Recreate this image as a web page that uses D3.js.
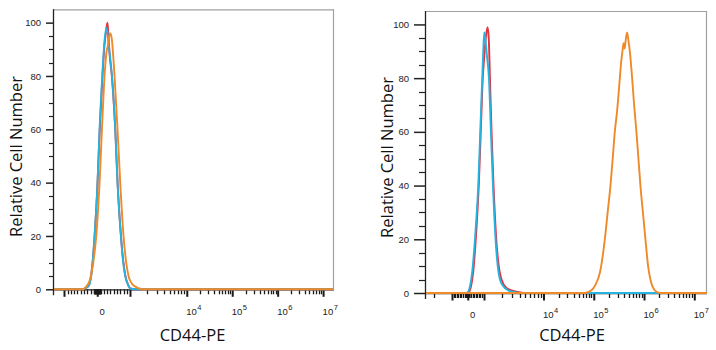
<!DOCTYPE html>
<html>
<head>
<meta charset="utf-8">
<script src="https://cdn.jsdelivr.net/npm/d3@7"></script>
<style>
  html, body { margin: 0; padding: 0; background: #fff; }
  svg { display: block; }
</style>
</head>
<body>
<svg id="chart" width="716" height="350"></svg>
<script>
// ---------------- DATA ----------------
// Histogram series: [fluorescence value, relative cell number]
const leftRed = [[-3000,0],[-470,0],[-280,1],[-190,5],[-85,19],[5,39],[68,58],[150,78],[215,91],[270,97],[310,100],[340,95],[370,89],[450,79],[550,59],[620,39],[725,19],[795,10],[855,5],[945,1.5],[1000,0.3],[1250,0],[3e7,0]];
const leftBlue = [[-3000,0],[-464,0],[-273,1],[-182,5],[-82,20],[9,40],[70,60],[152,80],[212,92],[273,98],[303,97],[364,90],[446,80],[546,60],[615,40],[718,20],[788,10],[849,5],[940,1.5],[1000,0.3],[1225,0],[3e7,0]];
const leftOrange = [[-3000,0],[-455,0],[-333,1],[-212,4],[-121,10],[-30,20],[70,40],[142,60],[221,80],[294,90],[318,91],[349,94],[394,96],[440,94],[524,80],[615,60],[697,40],[797,20],[879,10],[949,5],[1085,2],[1277,0.8],[1502,0.2],[1840,0],[3e7,0]];

const rightRed = [[-4000,0],[-10,0],[95,0.5],[222,3],[348,8],[507,20],[697,40],[823,60],[950,80],[1027,88],[1089,95],[1167,99],[1220,95],[1278,80],[1359,60],[1468,40],[1630,20],[1792,10],[1995,5],[2388,2],[3130,0.8],[4090,0.2],[4950,0],[3e7,0]];
const rightBlue = [[-4000,0],[-95,0],[32,0.5],[158,3],[285,8],[456,20],[570,30],[665,40],[791,60],[918,80],[981,90],[1027,97],[1068,95],[1131,89],[1230,80],[1328,60],[1435,40],[1585,20],[1724,10],[1876,5],[2131,2.5],[2580,1],[3247,0.4],[4250,0],[3e7,0]];
const rightOrange = [[-4000,0],[66500,0],[90000,1],[108000,3],[134000,8],[166000,20],[189000,30],[215000,40],[238000,50],[262000,60],[292000,68],[305000,72],[330000,80],[351000,86],[372000,90],[393000,93],[411000,91],[431000,94],[461000,97],[490000,94],[522000,90],[580000,80],[635000,70],[706000,60],[774000,50],[848000,40],[950000,30],[1067000,20],[1205000,10],[1340000,5],[1640000,1],[2060000,0],[3e7,0]];

const yTickValues = [0, 20, 40, 60, 80, 100];
const xLabeledTicks = [0, 1e4, 1e5, 1e6, 1e7];
const xUnlabeledMajor = [-1000, 1000];
const xTitle = "CD44-PE";
const yTitle = "Relative Cell Number";

const colors = { red: "#e4323e", blue: "#26b3de", orange: "#ef8a2a" };

// ---------------- LAYOUT ----------------
const panels = [
  { x0: 53, x1: 334, yBottom: 289.3, yTop: 9.3, uDom: [-0.974, 5.21], w: 0.725, d4: 1.97,
    series: [leftRed, leftBlue, leftOrange], yTickLen: 7, yMinorLen: 4, yLabelGap: 5,
    xLabelY: 315, xTitle: [192.5, 341], yTitle: [15, 156.5] },
  { x0: 425, x1: 707, yBottom: 293, yTop: 11, uDom: [-0.851, 4.76], w: 0.314, d4: 1.507,
    series: [rightRed, rightBlue, rightOrange], yTickLen: 11, yMinorLen: 6, yLabelGap: 5,
    xLabelY: 318, xTitle: [572, 341], yTitle: [386.5, 157.5] }
];

const svg = d3.select("#chart");

function makeBiexScale(p) {
  const lin = d3.scaleLinear().domain(p.uDom).range([p.x0, p.x1]);
  const T = v => {
    if (v >= 1e4) return p.d4 + Math.log10(v / 1e4);
    if (v > 1000) return p.w + (p.d4 - p.w) * Math.log10(v / 1000);
    if (v >= -1000) return p.w * v / 1000;
    return -p.w - (p.d4 - p.w) * Math.log10(-v / 1000);
  };
  const s = v => lin(T(+v));
  s.range = () => lin.range();
  s.domain = () => p.uDom;
  s.copy = () => s;
  return s;
}

// minor tick generator (axis decoration)
function minorXTicks() {
  const t = [];
  for (let k = 1; k <= 9; k++) { t.push(k * 10, -k * 10); }
  for (let k = 1; k <= 9; k++) { t.push(k * 100, -k * 100); }
  for (let n = 3; n <= 6; n++) for (let k = 2; k <= 9; k++) t.push(k * Math.pow(10, n));
  for (let k = 2; k <= 9; k++) t.push(-k * 1000);
  return t;
}

panels.forEach(p => {
  const x = makeBiexScale(p);
  const y = d3.scaleLinear().domain([0, 105]).range([p.yBottom, p.yTop]);
  const g = svg.append("g");
  const inRange = v => { const px = x(v); return px >= p.x0 + 1 && px <= p.x1 + 0.1; };

  // frame (top and right in gray)
  g.append("line").attr("x1", p.x0).attr("x2", p.x1).attr("y1", p.yTop + 0.5).attr("y2", p.yTop + 0.5)
    .attr("stroke", "#a0a0a0").attr("stroke-width", 1.2);
  g.append("line").attr("x1", p.x1 - 0.5).attr("x2", p.x1 - 0.5).attr("y1", p.yTop).attr("y2", p.yBottom)
    .attr("stroke", "#a0a0a0").attr("stroke-width", 1.2);

  // y axis
  const yMinor = d3.range(5, 100, 5).filter(v => v % 20 !== 0);
  g.append("g").selectAll("line").data(yMinor).join("line")
    .attr("x1", p.x0 - p.yMinorLen).attr("x2", p.x0)
    .attr("y1", d => Math.round(y(d)) + 0.5).attr("y2", d => Math.round(y(d)) + 0.5)
    .attr("stroke", "#222").attr("stroke-width", 1.2);
  const ya = g.append("g").attr("transform", `translate(${p.x0},0)`)
    .call(d3.axisLeft(y).tickValues(yTickValues).tickSize(p.yTickLen).tickSizeOuter(0).tickPadding(p.yLabelGap).tickFormat(d3.format("d")));
  ya.select(".domain").attr("d", `M0.5,${p.yTop}V${p.yBottom + 6}`).attr("stroke", "#222").attr("stroke-width", 1.3);
  ya.selectAll("line").attr("stroke", "#222").attr("stroke-width", 1.5);
  ya.selectAll("text").attr("font-family", "'Liberation Sans', Arial, sans-serif")
    .attr("font-size", 9.5).attr("fill", "#222");

  // x axis: minor ticks and unlabeled major ticks
  const minors = minorXTicks().filter(inRange);
  g.append("g").selectAll("line").data(minors).join("line")
    .attr("x1", d => Math.round(x(d)) + 0.5).attr("x2", d => Math.round(x(d)) + 0.5)
    .attr("y1", p.yBottom).attr("y2", p.yBottom + 5)
    .attr("stroke", "#1a1a1a").attr("stroke-width", 1.3);
  g.append("g").selectAll("line").data(xUnlabeledMajor.filter(inRange)).join("line")
    .attr("x1", d => Math.round(x(d)) + 0.5).attr("x2", d => Math.round(x(d)) + 0.5)
    .attr("y1", p.yBottom).attr("y2", p.yBottom + 7.5)
    .attr("stroke", "#1a1a1a").attr("stroke-width", 2);
  const xa = g.append("g").attr("transform", `translate(0,${p.yBottom})`)
    .call(d3.axisBottom(x).tickValues(xLabeledTicks).tickSize(7.5).tickSizeOuter(0).tickFormat(""));
  xa.select(".domain").attr("d", `M${p.x0},0.5H${p.x1}`).attr("stroke", "#222").attr("stroke-width", 1.3);
  xa.selectAll("line").attr("stroke", "#1a1a1a").attr("stroke-width", 2);
  xa.selectAll(".tick text").each(function(d) {
    const t = d3.select(this)
      .attr("y", p.xLabelY - p.yBottom).attr("dy", null)
      .attr("font-family", "'Liberation Sans', Arial, sans-serif")
      .attr("font-size", 9.5).attr("fill", "#222");
    if (d === 0) {
      t.attr("text-anchor", "middle").attr("x", 4.5).text("0");
    } else {
      t.attr("text-anchor", "start").attr("x", -1);
      t.append("tspan").text("10");
      t.append("tspan").attr("font-size", 7.5).attr("dy", -5).attr("dx", 0.5).text(String(Math.round(Math.log10(d))));
    }
  });

  // curves
  const clipId = "clip" + p.x0;
  svg.append("clipPath").attr("id", clipId).append("rect")
    .attr("x", p.x0 + 1).attr("y", p.yTop).attr("width", p.x1 - p.x0 - 1).attr("height", p.yBottom - p.yTop + 2);
  const line = d3.line().x(d => x(d[0])).y(d => y(d[1])).curve(d3.curveMonotoneX);
  const cols = [colors.red, colors.blue, colors.orange];
  const cg = g.append("g").attr("clip-path", `url(#${clipId})`);
  p.series.forEach((s, i) => {
    cg.append("path").datum(s).attr("d", line).attr("fill", "none")
      .attr("stroke", cols[i]).attr("stroke-width", 1.9).attr("stroke-linejoin", "round");
  });

  // titles
  g.append("text").attr("x", p.xTitle[0]).attr("y", p.xTitle[1]).attr("text-anchor", "middle")
    .attr("font-family", "'Open Sans', 'Noto Sans', sans-serif").attr("font-size", 16.5).attr("fill", "#111")
    .text(xTitle);
  g.append("text").attr("transform", `translate(${p.yTitle[0]},${p.yTitle[1]}) rotate(-90)`)
    .attr("text-anchor", "middle").attr("dominant-baseline", "central")
    .attr("font-family", "'Open Sans', 'Noto Sans', sans-serif").attr("font-size", 16.5).attr("fill", "#111")
    .text(yTitle);
});
</script>
</body>
</html>
